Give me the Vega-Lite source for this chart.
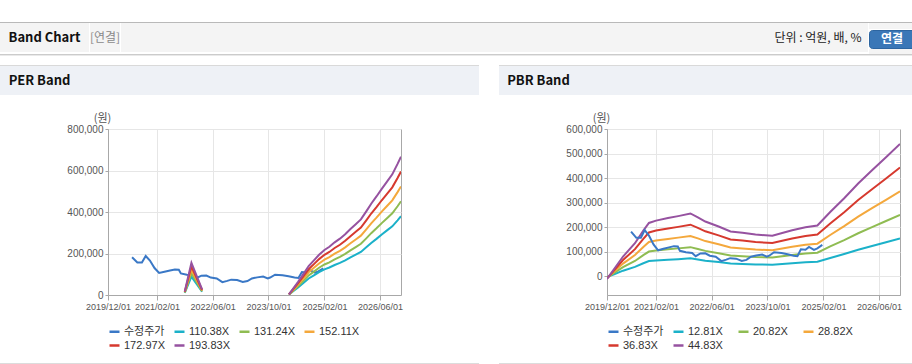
{
  "$schema": "https://vega.github.io/schema/vega-lite/v6.json",
  "padding": {"left": 0, "top": 22, "right": 0, "bottom": 0},
  "background": "#ffffff",
  "spacing": 0,
  "resolve": {"scale": {"color": "independent"}, "legend": {"color": "independent"}},
  "config": {
    "view": {"stroke": null},
    "concat": {"spacing": 0},
    "axis": {"labelFont": "Liberation Sans", "labelFontSize": 10, "labelColor": "#555555", "gridColor": "#e6e6e6", "tickColor": "#a8a8a8", "domainColor": "#a8a8a8", "tickSize": 4, "labelPadding": 2, "titleFont": "Noto Sans CJK KR", "titleFontSize": 11, "titleFontWeight": "normal", "titleColor": "#555555"},
    "legend": {"orient": "bottom", "direction": "horizontal", "columns": 4, "gridAlign": "all", "symbolType": "stroke", "symbolSize": 100, "symbolStrokeWidth": 2.5, "labelFontSize": 11, "labelFont": "Liberation Sans, Noto Sans CJK KR", "labelColor": "#333333", "columnPadding": 4, "rowPadding": 2, "labelOffset": 3, "offset": 14, "padding": 0}
  },
  "datasets": {
    "price": [
      {"d": "2020-06-28", "수정주가": 182000}, {"d": "2020-08-13", "수정주가": 157000}, {"d": "2020-09-22", "수정주가": 157000},
      {"d": "2020-10-25", "수정주가": 188000}, {"d": "2020-12-01", "수정주가": 166000}, {"d": "2021-01-10", "수정주가": 130000},
      {"d": "2021-02-19", "수정주가": 106000}, {"d": "2021-04-07", "수정주가": 112000}, {"d": "2021-05-25", "수정주가": 118000},
      {"d": "2021-07-07", "수정주가": 123000}, {"d": "2021-08-10", "수정주가": 122000}, {"d": "2021-08-28", "수정주가": 104000},
      {"d": "2021-10-19", "수정주가": 98000}, {"d": "2021-12-13", "수정주가": 95000}, {"d": "2022-01-13", "수정주가": 82000},
      {"d": "2022-02-23", "수정주가": 93000}, {"d": "2022-04-07", "수정주가": 94000}, {"d": "2022-05-16", "수정주가": 84000},
      {"d": "2022-07-07", "수정주가": 80000}, {"d": "2022-08-25", "수정주가": 62000}, {"d": "2022-10-07", "수정주가": 68000},
      {"d": "2022-11-10", "수정주가": 74000}, {"d": "2023-01-01", "수정주가": 72000}, {"d": "2023-02-19", "수정주가": 63000},
      {"d": "2023-04-01", "수정주가": 67000}, {"d": "2023-05-10", "수정주가": 80000}, {"d": "2023-06-25", "수정주가": 85000},
      {"d": "2023-08-16", "수정주가": 89000}, {"d": "2023-09-25", "수정주가": 80000}, {"d": "2023-10-16", "수정주가": 84000},
      {"d": "2023-11-28", "수정주가": 98000}, {"d": "2024-02-01", "수정주가": 95000}, {"d": "2024-03-25", "수정주가": 90000},
      {"d": "2024-05-16", "수정주가": 84000}, {"d": "2024-06-19", "수정주가": 82000}, {"d": "2024-07-19", "수정주가": 110000},
      {"d": "2024-08-28", "수정주가": 108000}, {"d": "2024-09-28", "수정주가": 120000}, {"d": "2024-11-10", "수정주가": 108000},
      {"d": "2024-12-10", "수정주가": 114000}, {"d": "2025-01-22", "수정주가": 128000}
    ],
    "per": [
      {"d": "2021-10-01", "seg": 1, "110.38X": 9934, "131.24X": 11812, "152.11X": 13690, "172.97X": 15567, "193.83X": 17445},
      {"d": "2021-11-28", "seg": 1, "110.38X": 88304, "131.24X": 104992, "152.11X": 121688, "172.97X": 138376, "193.83X": 155064},
      {"d": "2022-03-01", "seg": 1, "110.38X": 15453, "131.24X": 18374, "152.11X": 21295, "172.97X": 24216, "193.83X": 27136},
      {"d": "2024-03-28", "seg": 2, "110.38X": 1656, "131.24X": 1969, "152.11X": 2282, "172.97X": 2595, "193.83X": 2907},
      {"d": "2024-05-01", "seg": 2, "110.38X": 16557, "131.24X": 19686, "152.11X": 22817, "172.97X": 25946, "193.83X": 29075},
      {"d": "2024-06-16", "seg": 2, "110.38X": 36425, "131.24X": 43309, "152.11X": 50196, "172.97X": 57080, "193.83X": 63964},
      {"d": "2024-08-01", "seg": 2, "110.38X": 57398, "131.24X": 68245, "152.11X": 79097, "172.97X": 89944, "193.83X": 100792},
      {"d": "2024-09-16", "seg": 2, "110.38X": 79474, "131.24X": 94493, "152.11X": 109519, "172.97X": 124538, "193.83X": 139558},
      {"d": "2024-11-01", "seg": 2, "110.38X": 94927, "131.24X": 112866, "152.11X": 130815, "172.97X": 148754, "193.83X": 166694},
      {"d": "2024-12-16", "seg": 2, "110.38X": 110380, "131.24X": 131240, "152.11X": 152110, "172.97X": 172970, "193.83X": 193830},
      {"d": "2025-02-01", "seg": 2, "110.38X": 123626, "131.24X": 146989, "152.11X": 170363, "172.97X": 193726, "193.83X": 217090},
      {"d": "2025-03-16", "seg": 2, "110.38X": 132456, "131.24X": 157488, "152.11X": 182532, "172.97X": 207564, "193.83X": 232596},
      {"d": "2025-05-01", "seg": 2, "110.38X": 144598, "131.24X": 171924, "152.11X": 199264, "172.97X": 226591, "193.83X": 253917},
      {"d": "2025-06-16", "seg": 2, "110.38X": 154532, "131.24X": 183736, "152.11X": 212954, "172.97X": 242158, "193.83X": 271362},
      {"d": "2025-08-01", "seg": 2, "110.38X": 166674, "131.24X": 198172, "152.11X": 229686, "172.97X": 261185, "193.83X": 292683},
      {"d": "2025-09-16", "seg": 2, "110.38X": 181023, "131.24X": 215234, "152.11X": 249460, "172.97X": 283671, "193.83X": 317881},
      {"d": "2025-11-01", "seg": 2, "110.38X": 194269, "131.24X": 230982, "152.11X": 267714, "172.97X": 304427, "193.83X": 341141},
      {"d": "2025-12-16", "seg": 2, "110.38X": 207514, "131.24X": 246731, "152.11X": 285967, "172.97X": 325184, "193.83X": 364400},
      {"d": "2026-02-01", "seg": 2, "110.38X": 229590, "131.24X": 272979, "152.11X": 316389, "172.97X": 359778, "193.83X": 403166},
      {"d": "2026-03-16", "seg": 2, "110.38X": 250563, "131.24X": 297915, "152.11X": 345290, "172.97X": 392642, "193.83X": 439994},
      {"d": "2026-05-01", "seg": 2, "110.38X": 270431, "131.24X": 321538, "152.11X": 372670, "172.97X": 423777, "193.83X": 474884},
      {"d": "2026-06-16", "seg": 2, "110.38X": 291403, "131.24X": 346474, "152.11X": 401570, "172.97X": 456641, "193.83X": 511711},
      {"d": "2026-08-01", "seg": 2, "110.38X": 311272, "131.24X": 370097, "152.11X": 428950, "172.97X": 487775, "193.83X": 546601},
      {"d": "2026-09-16", "seg": 2, "110.38X": 331140, "131.24X": 393720, "152.11X": 456330, "172.97X": 518910, "193.83X": 581490},
      {"d": "2026-11-01", "seg": 2, "110.38X": 359839, "131.24X": 427842, "152.11X": 495879, "172.97X": 563882, "193.83X": 631886},
      {"d": "2026-12-01", "seg": 2, "110.38X": 379707, "131.24X": 451466, "152.11X": 523258, "172.97X": 595017, "193.83X": 666775}
    ],
    "pbr": [
      {"d": "2019-12-01", "12.81X": -3138, "20.82X": -5101, "28.82X": -7061, "36.83X": -9023, "44.83X": -10983},
      {"d": "2020-02-01", "12.81X": 8583, "20.82X": 13949, "28.82X": 19309, "36.83X": 24676, "44.83X": 30036},
      {"d": "2020-04-19", "12.81X": 23058, "20.82X": 37476, "28.82X": 51876, "36.83X": 66294, "44.83X": 80694},
      {"d": "2020-08-01", "12.81X": 38558, "20.82X": 62668, "28.82X": 86748, "36.83X": 110858, "44.83X": 134938},
      {"d": "2020-10-13", "12.81X": 53162, "20.82X": 86403, "28.82X": 119603, "36.83X": 152845, "44.83X": 186045},
      {"d": "2020-12-01", "12.81X": 62129, "20.82X": 100977, "28.82X": 139777, "36.83X": 178626, "44.83X": 217426},
      {"d": "2021-02-01", "12.81X": 64819, "20.82X": 105349, "28.82X": 145829, "36.83X": 186360, "44.83X": 226840},
      {"d": "2021-05-16", "12.81X": 67765, "20.82X": 110138, "28.82X": 152458, "36.83X": 194831, "44.83X": 237151},
      {"d": "2021-08-13", "12.81X": 70071, "20.82X": 113885, "28.82X": 157645, "36.83X": 201460, "44.83X": 245220},
      {"d": "2021-11-28", "12.81X": 73145, "20.82X": 118882, "28.82X": 164562, "36.83X": 210299, "44.83X": 255979},
      {"d": "2022-02-01", "12.81X": 68662, "20.82X": 111595, "28.82X": 154475, "36.83X": 197409, "44.83X": 240289},
      {"d": "2022-04-07", "12.81X": 63794, "20.82X": 103684, "28.82X": 143524, "36.83X": 183413, "44.83X": 223253},
      {"d": "2022-08-01", "12.81X": 58029, "20.82X": 94315, "28.82X": 130555, "36.83X": 166840, "44.83X": 203080},
      {"d": "2022-11-13", "12.81X": 52265, "20.82X": 84946, "28.82X": 117586, "36.83X": 150266, "44.83X": 182906},
      {"d": "2023-02-25", "12.81X": 50600, "20.82X": 82239, "28.82X": 113839, "36.83X": 145479, "44.83X": 177079},
      {"d": "2023-06-19", "12.81X": 48550, "20.82X": 78908, "28.82X": 109228, "36.83X": 139586, "44.83X": 169906},
      {"d": "2023-11-13", "12.81X": 47141, "20.82X": 76618, "28.82X": 106058, "36.83X": 135534, "44.83X": 164974},
      {"d": "2024-02-07", "12.81X": 50343, "20.82X": 81823, "28.82X": 113263, "36.83X": 144742, "44.83X": 176182},
      {"d": "2024-05-04", "12.81X": 53674, "20.82X": 87236, "28.82X": 120756, "36.83X": 154318, "44.83X": 187838},
      {"d": "2024-08-28", "12.81X": 57133, "20.82X": 92857, "28.82X": 128537, "36.83X": 164262, "44.83X": 199942},
      {"d": "2024-12-10", "12.81X": 59144, "20.82X": 96126, "28.82X": 133062, "36.83X": 170044, "44.83X": 206980},
      {"d": "2025-04-01", "12.81X": 74862, "20.82X": 121672, "28.82X": 168424, "36.83X": 215235, "44.83X": 261987},
      {"d": "2025-08-01", "12.81X": 90874, "20.82X": 147697, "28.82X": 204449, "36.83X": 261272, "44.83X": 318024},
      {"d": "2025-12-01", "12.81X": 108014, "20.82X": 175554, "28.82X": 243010, "36.83X": 310551, "44.83X": 378007},
      {"d": "2026-04-01", "12.81X": 123437, "20.82X": 200622, "28.82X": 277710, "36.83X": 354894, "44.83X": 431982},
      {"d": "2026-08-01", "12.81X": 138591, "20.82X": 225252, "28.82X": 311804, "36.83X": 398464, "44.83X": 485016},
      {"d": "2026-12-01", "12.81X": 154015, "20.82X": 250319, "28.82X": 346503, "36.83X": 442807, "44.83X": 538991}
    ]
  },
  "vconcat": [
    {"width": 912, "height": 1, "view": {"fill": "#b9b9b9", "stroke": null}, "data": {"values": []}, "mark": {"type": "text", "text": ""}, "encoding": {}},
    {
      "spacing": 0,
      "hconcat": [
        {"width": 89, "height": 29, "view": {"fill": "#f4f4f4", "stroke": null}, "data": {"values": [{}]}, "mark": {"type": "text", "text": "Band Chart", "font": "Noto Sans CJK KR", "fontSize": 13, "fontWeight": "bold", "color": "#111111", "baseline": "middle"}, "encoding": {}},
        {"width": 30, "height": 29, "view": {"fill": "#f4f4f4", "stroke": null}, "data": {"values": [{}]}, "mark": {"type": "text", "text": "[연결]", "font": "Noto Sans CJK KR", "fontSize": 12, "color": "#8a8a8a", "baseline": "middle"}, "encoding": {}},
        {"width": 651, "height": 29, "view": {"fill": "#f4f4f4", "stroke": null}, "data": {"values": []}, "mark": {"type": "text", "text": ""}, "encoding": {}},
        {"width": 92, "height": 29, "view": {"fill": "#f4f4f4", "stroke": null}, "data": {"values": [{}]}, "mark": {"type": "text", "text": "단위 : 억원, 배, %", "font": "Noto Sans CJK KR", "fontSize": 12, "color": "#222222", "baseline": "middle"}, "encoding": {}},
        {"width": 4, "height": 29, "view": {"fill": "#f4f4f4", "stroke": null}, "data": {"values": []}, "mark": {"type": "text", "text": ""}, "encoding": {}},
        {
          "spacing": 0,
          "vconcat": [
            {"width": 46, "height": 6, "view": {"fill": "#f4f4f4", "stroke": null}, "data": {"values": []}, "mark": {"type": "text", "text": ""}, "encoding": {}},
            {"width": 46, "height": 18, "view": {"fill": "#3a77b7", "stroke": "#2d65a0", "cornerRadius": 3}, "data": {"values": [{}]}, "mark": {"type": "text", "text": "연결", "font": "Noto Sans CJK KR", "fontSize": 12, "fontWeight": "bold", "color": "#ffffff", "baseline": "middle"}, "encoding": {}},
            {"width": 46, "height": 5, "view": {"fill": "#f4f4f4", "stroke": null}, "data": {"values": []}, "mark": {"type": "text", "text": ""}, "encoding": {}}
          ]
        }
      ]
    },
    {"width": 912, "height": 1, "view": {"fill": "#cbcbcb", "stroke": null}, "data": {"values": []}, "mark": {"type": "text", "text": ""}, "encoding": {}},
    {"width": 912, "height": 1, "view": {"fill": "#e9e9e9", "stroke": null}, "data": {"values": []}, "mark": {"type": "text", "text": ""}, "encoding": {}},
    {"width": 912, "height": 9, "data": {"values": []}, "mark": {"type": "text", "text": ""}, "encoding": {}},
    {
      "spacing": 20,
      "resolve": {"scale": {"color": "independent"}, "legend": {"color": "independent"}},
      "hconcat": [
        {
          "spacing": 0,
          "resolve": {"scale": {"color": "independent"}, "legend": {"color": "independent"}},
          "vconcat": [
            {"width": 479, "height": 1, "view": {"fill": "#d9d9d9", "stroke": null}, "data": {"values": []}, "mark": {"type": "text", "text": ""}, "encoding": {}},
            {
              "spacing": 0,
              "hconcat": [
                {"width": 79, "height": 29, "view": {"fill": "#eef1f6", "stroke": null}, "data": {"values": [{}]}, "mark": {"type": "text", "text": "PER Band", "font": "Noto Sans CJK KR", "fontSize": 13, "fontWeight": "bold", "color": "#111111", "baseline": "middle"}, "encoding": {}},
                {"width": 400, "height": 29, "view": {"fill": "#eef1f6", "stroke": null}, "data": {"values": []}, "mark": {"type": "text", "text": ""}, "encoding": {}}
              ]
            },
            {"width": 479, "height": 16, "data": {"values": []}, "mark": {"type": "text", "text": ""}, "encoding": {}},
            {
              "spacing": 0,
              "resolve": {"scale": {"color": "independent"}, "legend": {"color": "independent"}},
              "hconcat": [
                {"width": 66, "height": 166, "data": {"values": []}, "mark": {"type": "text", "text": ""}, "encoding": {}},
                {
                  "width": 293,
                  "height": 166,
                  "view": {"stroke": "#a8a8a8", "fill": "#ffffff"},
                  "encoding": {
                    "x": {"field": "d", "type": "temporal", "title": null,
                      "scale": {"domain": [{"year": 2019, "month": 12, "date": 1}, {"year": 2026, "month": 12, "date": 1}]},
                      "axis": {"values": [{"year": 2019, "month": 12, "date": 1}, {"year": 2021, "month": 2, "date": 1}, {"year": 2022, "month": 6, "date": 1}, {"year": 2023, "month": 10, "date": 1}, {"year": 2025, "month": 2, "date": 1}, {"year": 2026, "month": 6, "date": 1}], "format": "%Y/%m/%d", "grid": true, "labelOverlap": false, "labelFlush": false, "tickSize": 5, "labelFontSize": 9}},
                    "y": {"field": "v", "type": "quantitative", "scale": {"domain": [0, 800000], "nice": false},
                      "axis": {"values": [0, 200000, 400000, 600000, 800000], "format": ",d", "grid": true, "tickSize": 3, "title": "(원)", "titleAngle": 0, "titleAlign": "center", "titleBaseline": "bottom", "titleX": -6, "titleY": -6}},
                    "color": {"field": "s", "type": "nominal", "title": null,
                      "scale": {"domain": ["수정주가", "110.38X", "131.24X", "152.11X", "172.97X", "193.83X"], "range": ["#3a78c6", "#1bb1c9", "#8fbc52", "#f4a83c", "#d6392e", "#9652a0"]}}
                  },
                  "layer": [
                    {"data": {"name": "price"}, "transform": [{"fold": ["수정주가"], "as": ["s", "v"]}], "mark": {"type": "line", "strokeWidth": 2, "clip": true}, "encoding": {}},
                    {"data": {"name": "per"}, "transform": [{"fold": ["110\\.38X", "131\\.24X", "152\\.11X", "172\\.97X", "193\\.83X"], "as": ["s", "v"]}], "mark": {"type": "line", "strokeWidth": 2, "clip": true}, "encoding": {"detail": {"field": "seg", "type": "nominal"}}}
                  ]
                }
              ]
            },
            {"width": 479, "height": 11, "data": {"values": []}, "mark": {"type": "text", "text": ""}, "encoding": {}},
            {"width": 479, "height": 1, "view": {"fill": "#dcdcdc", "stroke": null}, "data": {"values": []}, "mark": {"type": "text", "text": ""}, "encoding": {}}
          ]
        },
        {
          "spacing": 0,
          "resolve": {"scale": {"color": "independent"}, "legend": {"color": "independent"}},
          "vconcat": [
            {"width": 413, "height": 1, "view": {"fill": "#d9d9d9", "stroke": null}, "data": {"values": []}, "mark": {"type": "text", "text": ""}, "encoding": {}},
            {
              "spacing": 0,
              "hconcat": [
                {"width": 79, "height": 29, "view": {"fill": "#eef1f6", "stroke": null}, "data": {"values": [{}]}, "mark": {"type": "text", "text": "PBR Band", "font": "Noto Sans CJK KR", "fontSize": 13, "fontWeight": "bold", "color": "#111111", "baseline": "middle"}, "encoding": {}},
                {"width": 334, "height": 29, "view": {"fill": "#eef1f6", "stroke": null}, "data": {"values": []}, "mark": {"type": "text", "text": ""}, "encoding": {}}
              ]
            },
            {"width": 413, "height": 16, "data": {"values": []}, "mark": {"type": "text", "text": ""}, "encoding": {}},
            {
              "spacing": 0,
              "resolve": {"scale": {"color": "independent"}, "legend": {"color": "independent"}},
              "hconcat": [
                {"width": 66, "height": 166, "data": {"values": []}, "mark": {"type": "text", "text": ""}, "encoding": {}},
                {
                  "width": 293,
                  "height": 166,
                  "view": {"stroke": "#a8a8a8", "fill": "#ffffff"},
                  "encoding": {
                    "x": {"field": "d", "type": "temporal", "title": null,
                      "scale": {"domain": [{"year": 2019, "month": 12, "date": 1}, {"year": 2026, "month": 12, "date": 1}]},
                      "axis": {"values": [{"year": 2019, "month": 12, "date": 1}, {"year": 2021, "month": 2, "date": 1}, {"year": 2022, "month": 6, "date": 1}, {"year": 2023, "month": 10, "date": 1}, {"year": 2025, "month": 2, "date": 1}, {"year": 2026, "month": 6, "date": 1}], "format": "%Y/%m/%d", "grid": true, "labelOverlap": false, "labelFlush": false, "tickSize": 5, "labelFontSize": 9}},
                    "y": {"field": "v", "type": "quantitative", "scale": {"domain": [-76000, 600000], "nice": false, "zero": false},
                      "axis": {"values": [0, 100000, 200000, 300000, 400000, 500000, 600000], "format": ",d", "grid": true, "tickSize": 3, "title": "(원)", "titleAngle": 0, "titleAlign": "center", "titleBaseline": "bottom", "titleX": -6, "titleY": -6}},
                    "color": {"field": "s", "type": "nominal", "title": null,
                      "scale": {"domain": ["수정주가", "12.81X", "20.82X", "28.82X", "36.83X", "44.83X"], "range": ["#3a78c6", "#1bb1c9", "#8fbc52", "#f4a83c", "#d6392e", "#9652a0"]}}
                  },
                  "layer": [
                    {"data": {"name": "pbr"}, "transform": [{"fold": ["12\\.81X", "20\\.82X", "28\\.82X", "36\\.83X", "44\\.83X"], "as": ["s", "v"]}], "mark": {"type": "line", "strokeWidth": 2, "clip": true}, "encoding": {}},
                    {"data": {"name": "price"}, "transform": [{"fold": ["수정주가"], "as": ["s", "v"]}], "mark": {"type": "line", "strokeWidth": 2, "clip": true}, "encoding": {}}
                  ]
                }
              ]
            },
            {"width": 413, "height": 11, "data": {"values": []}, "mark": {"type": "text", "text": ""}, "encoding": {}},
            {"width": 413, "height": 1, "view": {"fill": "#dcdcdc", "stroke": null}, "data": {"values": []}, "mark": {"type": "text", "text": ""}, "encoding": {}}
          ]
        }
      ]
    }
  ]
}
